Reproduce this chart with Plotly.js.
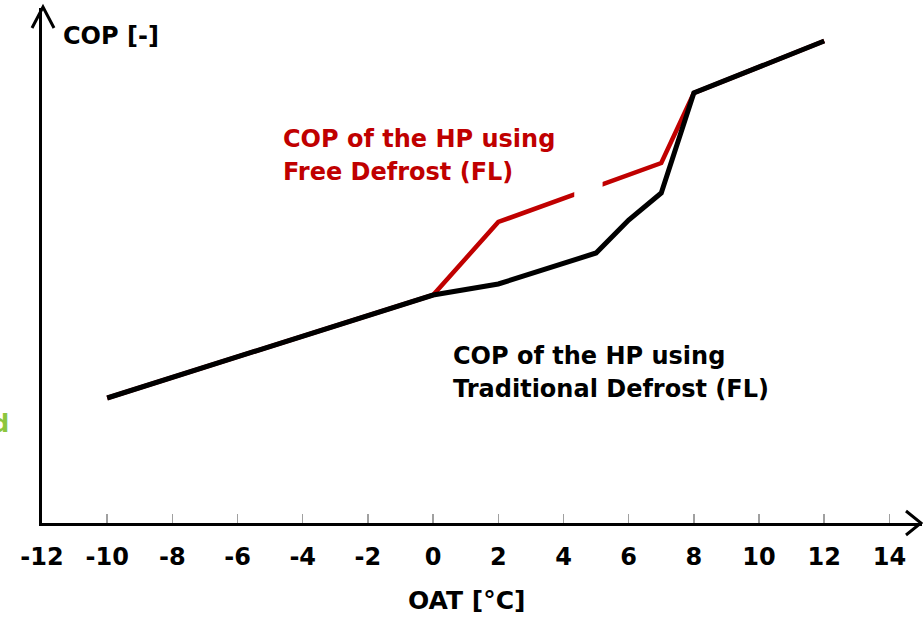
<!DOCTYPE html>
<html><head><meta charset="utf-8">
<script src="https://cdn.plot.ly/plotly-3.0.1.min.js"></script>
<style>html,body{margin:0;padding:0;background:#fff}#c{width:923px;height:618px}</style>
</head><body><div id="c"></div>
<script>
// Data (COP in arbitrary units)
const oat_trad = [-10, 0, 2, 5, 6, 7, 8, 12];
const cop_trad = [1.25, 2.28, 2.39, 2.70, 3.03, 3.30, 4.30, 4.82];
const oat_free = [-10, 0, 2, 7, 8, 12];
const cop_free = [1.25, 2.28, 3.01, 3.60, 4.30, 4.82];
const xTicks = [-12, -10, -8, -6, -4, -2, 0, 2, 4, 6, 8, 10, 12, 14];

const L = 42, R = 922, T = 8, B = 523;
const px = x => (x - L) / (R - L);
const py = y => (B - y) / (B - T);
const FONT = 'DejaVu Sans, sans-serif';

const traces = [
  {x: oat_free, y: cop_free, mode: 'lines', line: {color: '#c00000', width: 4.5}, hoverinfo: 'skip'},
  {x: oat_trad, y: cop_trad, mode: 'lines', line: {color: '#000000', width: 5}, hoverinfo: 'skip'}
];

function ann(text, x, y, color, xanchor, size) {
  return {text: text, xref: 'paper', yref: 'paper', x: px(x), y: py(y), showarrow: false,
    xanchor: xanchor || 'left', yanchor: 'middle', align: 'left',
    font: {family: FONT, size: size || 24, color: color || '#000', weight: 'bold'}};
}

const layout = {
  width: 923, height: 618,
  margin: {l: L, r: 923 - R, t: T, b: 618 - B},
  paper_bgcolor: '#fff', plot_bgcolor: '#fff',
  showlegend: false,
  xaxis: {range: [-12, 15], showgrid: false, zeroline: false, showline: true, linecolor: '#000', linewidth: 3,
    tickvals: xTicks, ticktext: xTicks.map(String), ticks: 'inside', ticklen: 9, tickwidth: 1.5, tickcolor: '#a0a0a0',
    ticklabelstandoff: 10, tickfont: {family: FONT, size: 24, color: '#000', weight: 'bold'}},
  yaxis: {range: [0, 5.15], showgrid: false, zeroline: false, showline: true, linecolor: '#000', linewidth: 3,
    showticklabels: false, ticks: ''},
  shapes: [
    {type: 'rect', xref: 'x', yref: 'y', x0: 4.33, x1: 5.2, y0: 3.18, y1: 3.48, fillcolor: '#fff', line: {width: 0}, layer: 'above'},
    {type: 'path', xref: 'paper', yref: 'paper', path: `M ${px(32)} ${py(28)} L ${px(43)} ${py(7)} L ${px(54)} ${py(28)}`, line: {color: '#000', width: 3}},
    {type: 'path', xref: 'paper', yref: 'paper', path: `M ${px(906)} ${py(511)} L ${px(921)} ${py(523)} L ${px(906)} ${py(535)}`, line: {color: '#000', width: 3}}
  ],
  annotations: [
    ann('COP [-]', 61, 36),
    ann('OAT [°C]', 466, 600, '#000', 'center', 25),
    ann('COP of the HP using', 281, 139, '#c00000'),
    ann('Free Defrost (FL)', 281, 172, '#c00000'),
    ann('COP of the HP using', 451, 356, '#000'),
    ann('Traditional Defrost (FL)', 451, 389, '#000'),
    ann('d', 11, 424, '#8cc63e', 'right')
  ]
};

Plotly.newPlot('c', traces, layout, {staticPlot: true, displayModeBar: false});
</script></body></html>
